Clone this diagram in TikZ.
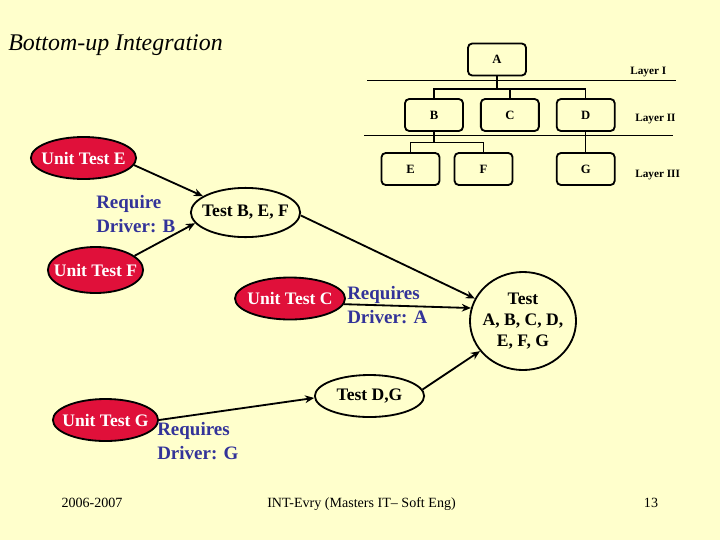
\documentclass[tikz,border=0pt]{standalone}
\usepackage{fontspec}
\setmainfont{Liberation Serif}
\usepackage{xcolor}
\usetikzlibrary{positioning,shapes.geometric,arrows.meta}
\definecolor{slidebg}{HTML}{FFFFCC}
\definecolor{unitred}{HTML}{E0103A}
\definecolor{driverblue}{HTML}{333399}

\begin{document}
\begin{tikzpicture}[
    x=0.025cm, y=-0.025cm,
    modbox/.style={
      rectangle, rounded corners=3pt, draw=black, line width=1.3pt,
      minimum width=1.45cm, minimum height=0.8cm, inner sep=0pt,
      font=\fontsize{9}{10}\selectfont\bfseries
    },
    tree/.style={line width=1.1pt},
    layer/.style={anchor=west, inner sep=0pt, font=\fontsize{8}{10}\selectfont\bfseries},
    unittest/.style={
      ellipse, draw=black, line width=1.3pt, fill=unitred, text=white,
      inner xsep=-8pt, inner ysep=0pt, minimum height=1.05cm,
      font=\fontsize{12.5}{15}\selectfont\bfseries
    },
    testset/.style={
      ellipse, draw=black, line width=1.3pt, align=center,
      inner xsep=-8pt, inner ysep=0pt,
      font=\fontsize{12.5}{15}\selectfont\bfseries
    },
    driver/.style={
      anchor=west, align=left, text=driverblue, inner sep=0pt,
      font=\fontsize{13.5}{17}\selectfont\bfseries
    },
    footer/.style={inner sep=0pt, text height=1.6ex, text depth=0.4ex, font=\fontsize{10}{12}\selectfont},
    arrow/.style={-{Stealth[length=6.5pt,width=5.5pt]}, line width=1.3pt}
  ]
  % Slide background
  \fill[slidebg] (0,0) rectangle (720,540);
  \node[anchor=west, inner sep=0pt, font=\fontsize{17}{20}\selectfont\itshape] (title) at (8,45) {Bottom-up Integration};

  % Layer hierarchy
  \node[modbox] (a) at (497,59.5) {A};
  \node[modbox] (b) at (434,115) {B};
  \node[modbox, right=0.4cm of b] (c) {C};
  \node[modbox, right=0.4cm of c] (d) {D};
  \node[modbox] (e) at (410.5,169) {E};
  \node[modbox, right=0.33cm of e] (f) {F};
  \node[modbox] (g) at (d |- e) {G};

  \node[layer] (l1) at (630,72) {Layer I};
  \node[layer] (l2) at (635,119) {Layer II};
  \node[layer] (l3) at (635,175) {Layer III};

  \draw[tree] (367,80.7) -- (676,80.7);
  \draw[tree] (364,135.7) -- (673,135.7);

  \coordinate (bus1) at (497,89);
  \draw[tree] (a.south) -- (bus1);
  \draw[tree] (b.north) |- (bus1) -| (d.north);
  \draw[tree] (c.north) -- (c.north |- bus1);
  \coordinate (bus2) at (434,142.7);
  \draw[tree] (b.south) -- (bus2);
  \draw[tree] (e.north) |- (bus2) -| (f.north);
  \draw[tree] (d.south) -- (g.north);

  % Unit tests
  \node[unittest, minimum width=2.63cm] (ute) at (83.5,158) {Unit Test E};
  \node[unittest, minimum width=2.38cm, minimum height=1.15cm] (utf) at (95.5,270) {Unit Test F};
  \node[unittest, minimum width=2.75cm] (utc) at (290,298.5) {Unit Test C};
  \node[unittest, minimum width=2.63cm] (utg) at (105.5,420) {Unit Test G};

  % Integration tests
  \node[testset, minimum width=2.73cm, minimum height=1.23cm] (tbef) at (245.5,212.5) {Test B, E, F};
  \node[testset, minimum width=2.73cm, minimum height=1.05cm] (tdg) at (369.5,396) {Test D,G};
  \node[testset, minimum width=2.65cm, minimum height=2.45cm] (tall) at (523,321) {Test\\A, B, C, D,\\E, F, G};

  % Drivers
  \node[driver] (drvb) at (96,214) {Require\\Driver: B};
  \node[driver] (drva) at (347,305) {Requires\\Driver: A};
  \node[driver] (drvg) at (157,441) {Requires\\Driver: G};

  % Arrows
  \draw[arrow] (ute.-8) -- (tbef.159);
  \draw[arrow] (utf.20) -- (tbef.192);
  \draw[arrow] (tbef.-3) -- (tall.155);
  \draw[arrow] (utc.-6) -- (tall.166);
  \draw[arrow] (utg.east) -- (tdg.182);
  \draw[arrow] (tdg.7) -- (tall.215);

  % Footer
  \node[footer] (year) at (92,504) {2006-2007};
  \node[footer] (course) at (361.5,504) {INT-Evry (Masters IT– Soft Eng)};
  \node[footer] (page) at (651,504) {13};
\end{tikzpicture}
\end{document}
